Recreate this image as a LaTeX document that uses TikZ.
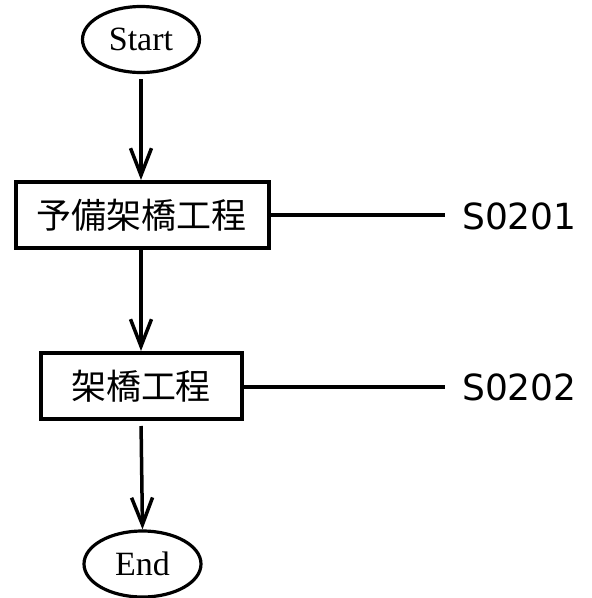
\documentclass[tikz,border=0pt]{standalone}
\usepackage{fontspec}
\setmainfont{Liberation Serif}
\newfontfamily\cjk{Noto Sans CJK JP}
\newfontfamily\labfont{DejaVu Sans}
\usetikzlibrary{arrows.meta,shapes.geometric}
\tikzset{
  term/.style={draw, ellipse, line width=3.2pt, minimum width=117pt, minimum height=66pt, inner sep=0pt, font=\fontsize{34}{36}\selectfont},
  proc/.style={draw, rectangle, line width=4pt, minimum height=66pt, inner sep=0pt, font=\cjk\fontsize{35}{38}\selectfont},
  flow/.style={line width=3.5pt, -{Straight Barb[length=27pt, width=21pt, line width=3.5pt]}},
  tie/.style={line width=3.5pt},
  lab/.style={anchor=west, inner sep=0pt, font=\labfont\fontsize{36}{38}\selectfont}
}
\begin{document}
\begin{tikzpicture}[x=1pt, y=-1pt]
\useasboundingbox (0,0) rectangle (592,598);
\node[term] (start) at (141,39.5) {Start};
\node[proc, minimum width=253pt] (p1) at (142,215) {予備架橋工程};
\node[proc, minimum width=201pt] (p2) at (141,386) {架橋工程};
\node[term] (end) at (142.5,564) {End};
\coordinate (c1) at (445,215);
\coordinate (c2) at (445,387);
\node[lab] (l1) at (462,216) {S0201};
\node[lab] (l2) at (462,387) {S0202};
\draw[flow, shorten <=5pt] (start.south) -- (start.south |- p1.north);
\draw[flow] (p1.south -| p2.north) -- (p2.north);
\draw[flow, shorten <=5pt] (p2.south) -- (end.north);
\draw[tie] (p1.east) -- (c1);
\draw[tie] (p2.east |- c2) -- (c2);
\end{tikzpicture}
\end{document}
